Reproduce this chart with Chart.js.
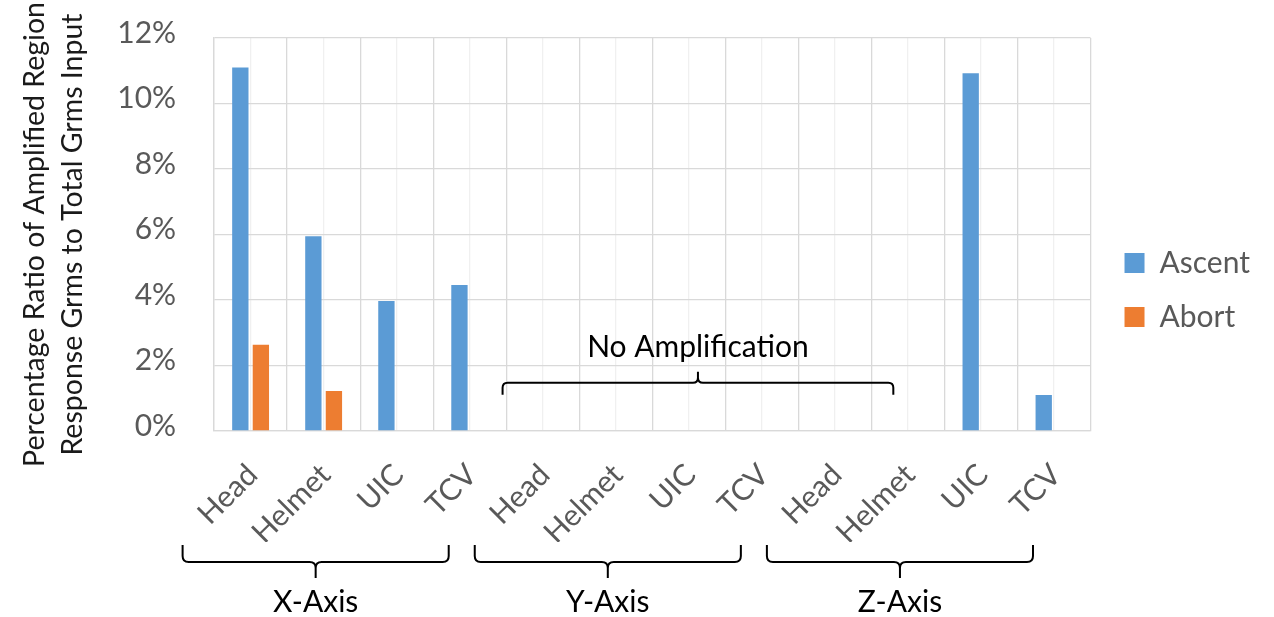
<!DOCTYPE html>
<html>
<head>
<meta charset="utf-8">
<script src="https://cdn.jsdelivr.net/npm/chart.js@4.4.1/dist/chart.umd.min.js"></script>
<style>
  html, body { margin: 0; padding: 0; background: #ffffff; }
  #wrap { width: 1274px; height: 617px; }
</style>
</head>
<body>
<div id="wrap"><canvas id="chart" width="1274" height="617"></canvas></div>
<script>
// Components measured on each test axis
const components = ['Head', 'Helmet', 'UIC', 'TCV', 'Head', 'Helmet', 'UIC', 'TCV', 'Head', 'Helmet', 'UIC', 'TCV'];
// Test axis groups (four components each)
const axisGroups = ['X-Axis', 'Y-Axis', 'Z-Axis'];
// Percentage ratio of amplified-region response Grms to total Grms input
const ascent = [11.1, 5.95, 3.97, 4.46, 0, 0, 0, 0, 0, 0, 10.92, 1.1];
const abort  = [2.63, 1.22, 0, 0, 0, 0, 0, 0, 0, 0, 0, 0];
// Y axis range and labelled step (percent)
const yMin = 0, yMax = 12, yLabelStep = 2;
const noAmpLabel = 'No Amplification';
const yTitle = ['Percentage Ratio of Amplified Region', 'Response Grms to Total Grms Input'];

const FONT = 'Lato';
const GRID_MAJOR = '#d9d9d9';
const GRID_MINOR = '#f0f0f0';
const TEXT_GRAY = '#595959';

Chart.defaults.font.family = FONT;

// Horizontal curly brace; dir = 1 -> ends point down, tip points up
function curly(ctx, x1, x2, y, dir, endLen, tipLen, r) {
  const xm = (x1 + x2) / 2;
  ctx.beginPath();
  ctx.moveTo(x1, y + dir * endLen);
  ctx.lineTo(x1, y + dir * r);
  ctx.quadraticCurveTo(x1, y, x1 + r, y);
  ctx.lineTo(xm - r, y);
  ctx.quadraticCurveTo(xm, y, xm, y - dir * r);
  ctx.lineTo(xm, y - dir * tipLen);
  ctx.moveTo(xm, y - dir * r);
  ctx.quadraticCurveTo(xm, y, xm + r, y);
  ctx.lineTo(x2 - r, y);
  ctx.quadraticCurveTo(x2, y, x2, y + dir * r);
  ctx.lineTo(x2, y + dir * endLen);
  ctx.stroke();
  return xm;
}

const bracePlugin = {
  id: 'braces',
  afterDraw(chart) {
    const ctx = chart.ctx;
    const xs = chart.scales.x, ys = chart.scales.y;
    const area = chart.chartArea;
    ctx.save();
    ctx.strokeStyle = '#000000';
    ctx.fillStyle = '#000000';
    ctx.lineWidth = 2;
    ctx.font = '30px ' + FONT;
    ctx.textAlign = 'center';
    ctx.textBaseline = 'alphabetic';

    // Brace over the categories with no amplification
    const x1 = xs.getPixelForValue(3.45), x2 = xs.getPixelForValue(8.8);
    const yb = ys.getPixelForValue(1.47);
    const tip = curly(ctx, x1, x2, yb, 1, 12, 11, 5);
    ctx.fillText(noAmpLabel, tip, ys.getPixelForValue(2.26));

    // Group braces under the category labels
    axisGroups.forEach((name, g) => {
      const a = xs.getPixelForValue(g * 4) - 68;
      const b = xs.getPixelForValue(g * 4 + 3) - 21;
      const yy = area.bottom + 131;
      const m = curly(ctx, a, b, yy, -1, 17, 16, 6);
      ctx.fillText(name, m, area.bottom + 181);
    });
    ctx.restore();
  }
};

new Chart(document.getElementById('chart'), {
  type: 'bar',
  data: {
    labels: components,
    datasets: [
      { label: 'Ascent', data: ascent, backgroundColor: '#5b9bd5', borderWidth: 0 },
      { label: 'Abort',  data: abort,  backgroundColor: '#ed7d31', borderWidth: 0 }
    ]
  },
  options: {
    responsive: false,
    devicePixelRatio: 1,
    animation: false,
    layout: { padding: { top: 38, bottom: 75, left: 16, right: 14 } },
    datasets: { bar: { categoryPercentage: 0.5625, barPercentage: 0.795 } },
    plugins: {
      tooltip: { enabled: false },
      legend: {
        position: 'right',
        labels: {
          boxWidth: 20, boxHeight: 20, padding: 24,
          color: TEXT_GRAY, font: { size: 30 }
        }
      }
    },
    scales: {
      x: {
        offset: true,
        grid: { offset: true, color: GRID_MAJOR, lineWidth: 1.3, drawTicks: false },
        border: { color: GRID_MAJOR, width: 1.3 },
        ticks: {
          color: TEXT_GRAY, font: { size: 30 },
          minRotation: 45, maxRotation: 45, padding: 26, labelOffset: 2, autoSkip: false
        },
        afterFit(scale) { scale.height = 111; }
      },
      xMinor: {
        position: 'bottom',
        offset: true,
        grid: { offset: false, color: GRID_MINOR, lineWidth: 1.3, drawTicks: false },
        border: { display: false },
        ticks: { display: false },
        afterFit(scale) { scale.height = 0; }
      },
      y: {
        min: yMin, max: yMax,
        grid: {
          drawTicks: true, tickLength: 28, tickColor: 'rgba(0,0,0,0)', lineWidth: 1.3,
          color: (c) => (c.tick && c.tick.value % yLabelStep === 0) ? GRID_MAJOR : GRID_MINOR
        },
        border: { color: GRID_MAJOR, width: 1.3 },
        ticks: {
          stepSize: 1, padding: 10, labelOffset: -5,
          color: TEXT_GRAY, font: { size: 30 },
          callback: (v) => (v % yLabelStep === 0) ? v + '%' : ''
        },
        title: {
          display: true, text: yTitle, color: '#1a1a1a',
          font: { size: 28.5, lineHeight: 1.32 }, padding: { top: 0, bottom: 16 }
        }
      },
      yPad: {
        position: 'right', display: true,
        grid: { display: false }, border: { display: false },
        ticks: { display: false },
        afterFit(scale) { scale.width = 10; }
      }
    }
  },
  plugins: [bracePlugin]
});
</script>
</body>
</html>
